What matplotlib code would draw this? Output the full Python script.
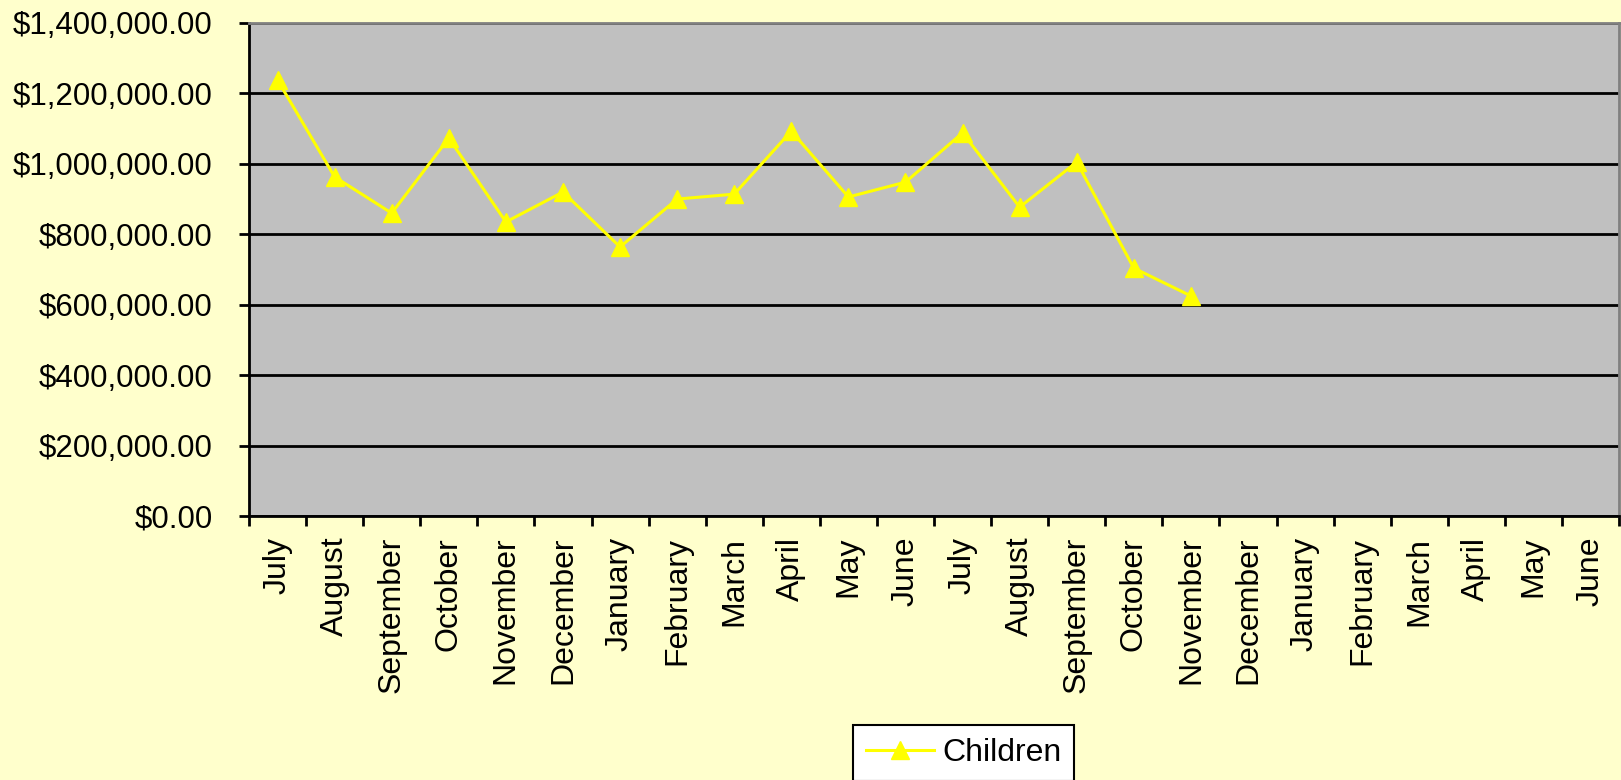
import matplotlib.pyplot as plt
from matplotlib.ticker import FuncFormatter, FixedLocator

plt.rcParams['font.family'] = ['Liberation Sans', 'DejaVu Sans']

months = ["July", "August", "September", "October", "November", "December",
          "January", "February", "March", "April", "May", "June",
          "July", "August", "September", "October", "November", "December",
          "January", "February", "March", "April", "May", "June"]

children = [1238000, 963000, 860000, 1073000, 835000, 920000,
            764000, 900000, 914000, 1093000, 906000, 948000,
            1088000, 877000, 1005000, 704000, 625000]

y_ticks = [0, 200000, 400000, 600000, 800000, 1000000, 1200000, 1400000]

fig = plt.figure(figsize=(16.21, 7.80), dpi=100)
fig.patch.set_facecolor("#FFFFCC")
ax = fig.add_axes([249 / 1621, 1 - 516 / 780, 1370 / 1621, 493 / 780])
ax.set_facecolor("#C0C0C0")

xs = list(range(len(children)))
ax.plot(xs, children, color="#FFFF00", lw=2.2, marker="^", markersize=12.5,
        markeredgecolor="#FFFF00", label="Children", zorder=3)

ax.set_xlim(-0.5, len(months) - 0.5)
ax.set_ylim(0, 1400000)

ax.set_yticks(y_ticks)
ax.yaxis.set_major_formatter(FuncFormatter(lambda v, p: f"${v:,.2f}"))
ax.grid(axis="y", color="black", lw=2)
ax.set_axisbelow(True)

# ticks at category boundaries, labels at centers
ax.xaxis.set_major_locator(FixedLocator([i - 0.5 for i in range(len(months) + 1)]))
ax.xaxis.set_minor_locator(FixedLocator(range(len(months))))
ax.set_xticklabels([])
ax.set_xticklabels(months, minor=True, rotation=90, fontsize=23)
ax.tick_params(axis="x", which="major", length=7, width=2, color="black")
ax.tick_params(axis="x", which="minor", length=0, pad=15)
ax.tick_params(axis="y", length=7, width=2, labelsize=22.5, pad=19)

for s in ["left", "bottom"]:
    ax.spines[s].set_color("black")
    ax.spines[s].set_linewidth(2)
for s in ["top", "right"]:
    ax.spines[s].set_color("#808080")
    ax.spines[s].set_linewidth(2)

leg = fig.legend(loc="upper left", bbox_to_anchor=(853 / 1621, 1 - 725 / 780),
                 fontsize=23, frameon=True, fancybox=False, handlelength=2.15,
                 borderpad=0.4, handletextpad=0.25, borderaxespad=0)
leg.get_frame().set_edgecolor("black")
leg.get_frame().set_facecolor("white")
leg.get_frame().set_alpha(1)
leg.get_frame().set_linewidth(1.5)

fig.savefig("out.png", dpi=100, facecolor=fig.get_facecolor())
